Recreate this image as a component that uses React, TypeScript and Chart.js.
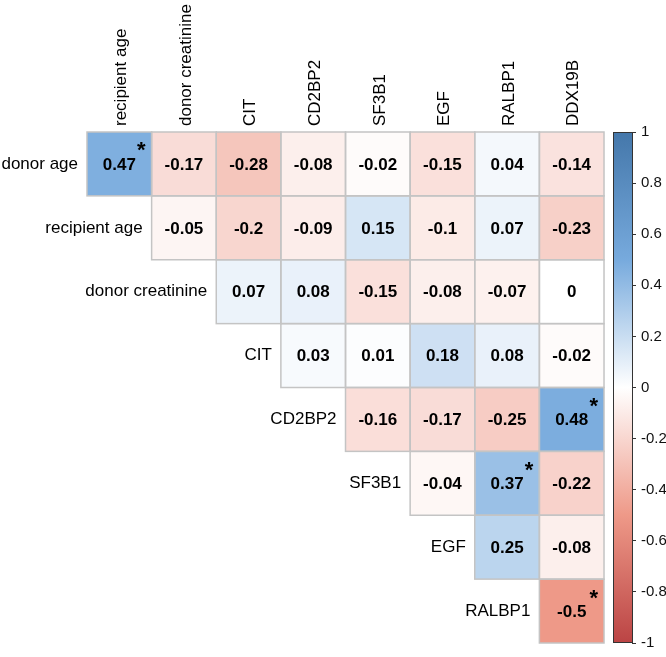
import React, { useEffect, useRef } from "react";
import { Chart, registerables } from "chart.js";

Chart.register(...registerables);

// ---- data ----
const colLabels = ["recipient age", "donor creatinine", "CIT", "CD2BP2", "SF3B1", "EGF", "RALBP1", "DDX19B"];
const rowLabels = ["donor age", "recipient age", "donor creatinine", "CIT", "CD2BP2", "SF3B1", "EGF", "RALBP1"];

// each row starts at the column with the same index (upper triangle)
const rowDonorAge = [0.47, -0.17, -0.28, -0.08, -0.02, -0.15, 0.04, -0.14];
const rowRecipientAge = [-0.05, -0.2, -0.09, 0.15, -0.1, 0.07, -0.23];
const rowDonorCreatinine = [0.07, 0.08, -0.15, -0.08, -0.07, 0];
const rowCIT = [0.03, 0.01, 0.18, 0.08, -0.02];
const rowCD2BP2 = [-0.16, -0.17, -0.25, 0.48];
const rowSF3B1 = [-0.04, 0.37, -0.22];
const rowEGF = [0.25, -0.08];
const rowRALBP1 = [-0.5];
const corrRows = [rowDonorAge, rowRecipientAge, rowDonorCreatinine, rowCIT, rowCD2BP2, rowSF3B1, rowEGF, rowRALBP1];

// significant cells [row, column]
const significantCells = [[0, 0], [4, 7], [5, 6], [7, 7]];

const paletteStops = [-1, -0.5, 0, 0.5, 1];
const paletteColors = ["#BB4444", "#EE9988", "#FFFFFF", "#77AADD", "#4477AA"];

const colorbarMin = -1;
const colorbarMax = 1;
const colorbarStep = 0.2;

// ---- layout constants ----
const W = 666;
const H = 657;
const GAP_UNITS = 0.433; // space between grid and colour bar in cell units
const COLORBAR_W = 19;
const FONT = "'Liberation Sans', Arial, sans-serif";

function hexToRgb(h: string) {
  const n = parseInt(h.slice(1), 16);
  return [(n >> 16) & 255, (n >> 8) & 255, n & 255];
}

function colorFor(v: number) {
  let i = 0;
  while (i < paletteStops.length - 2 && v > paletteStops[i + 1]) i++;
  const t = (v - paletteStops[i]) / (paletteStops[i + 1] - paletteStops[i]);
  const a = hexToRgb(paletteColors[i]);
  const b = hexToRgb(paletteColors[i + 1]);
  const c = a.map((av, k) => Math.round(av + (b[k] - av) * t));
  return `rgb(${c[0]},${c[1]},${c[2]})`;
}

type Cell = { x: number; y: number; v: number; sig: boolean };

const cells: Cell[] = [];
corrRows.forEach((row, r) => {
  row.forEach((v, k) => {
    const c = r + k;
    cells.push({ x: c, y: r, v, sig: significantCells.some(([sr, sc]) => sr === r && sc === c) });
  });
});

const corrPlugin = {
  id: "corrplot",
  beforeDatasetsDraw(chart: any) {
    const { ctx } = chart;
    const xs = chart.scales.x;
    const ys = chart.scales.y;
    const cb = chart.scales.cb;
    const data: Cell[] = chart.data.datasets[0].data;
    ctx.save();
    const rectOf = (p: Cell) => {
      const x0 = xs.getPixelForValue(p.x - 0.5);
      const x1 = xs.getPixelForValue(p.x + 0.5);
      const ya = ys.getPixelForValue(p.y - 0.5);
      const yb = ys.getPixelForValue(p.y + 0.5);
      return { x0, x1, y0: Math.min(ya, yb), y1: Math.max(ya, yb) };
    };
    for (const p of data) {
      const r = rectOf(p);
      ctx.fillStyle = colorFor(p.v);
      ctx.fillRect(r.x0, r.y0, r.x1 - r.x0, r.y1 - r.y0);
    }
    ctx.strokeStyle = "#c4c4c4";
    ctx.lineWidth = 1.5;
    for (const p of data) {
      const r = rectOf(p);
      ctx.strokeRect(r.x0, r.y0, r.x1 - r.x0, r.y1 - r.y0);
    }

    // values
    ctx.fillStyle = "#000";
    ctx.textAlign = "center";
    ctx.textBaseline = "middle";
    ctx.font = `bold 17px ${FONT}`;
    for (const p of data) {
      const cx = xs.getPixelForValue(p.x);
      const cy = ys.getPixelForValue(p.y);
      ctx.fillText(String(p.v), cx, cy + 1);
    }
    // significance stars
    ctx.font = `bold 22px ${FONT}`;
    ctx.textBaseline = "alphabetic";
    for (const p of data) {
      if (!p.sig) continue;
      const cx = xs.getPixelForValue(p.x);
      const cy = ys.getPixelForValue(p.y);
      ctx.fillText("*", cx + 22, cy - 19 + 12.5);
    }

    // row labels
    ctx.font = `17px ${FONT}`;
    ctx.textAlign = "right";
    ctx.textBaseline = "middle";
    rowLabels.forEach((lab, r) => {
      const left = xs.getPixelForValue(r - 0.5);
      ctx.fillText(lab, left - 9, ys.getPixelForValue(r));
    });
    // column labels (rotated)
    const top = Math.min(ys.getPixelForValue(-0.5), ys.getPixelForValue(7.5));
    colLabels.forEach((lab, c) => {
      ctx.save();
      ctx.translate(xs.getPixelForValue(c) + 2, top - 6);
      ctx.rotate(-Math.PI / 2);
      ctx.textAlign = "left";
      ctx.fillText(lab, 0, 0);
      ctx.restore();
    });

    // colour bar
    const yTop = cb.getPixelForValue(colorbarMax);
    const yBot = cb.getPixelForValue(colorbarMin);
    const right = cb.left;
    const left = right - COLORBAR_W;
    const g = ctx.createLinearGradient(0, yBot, 0, yTop);
    paletteStops.forEach((s, i) => g.addColorStop((s - colorbarMin) / (colorbarMax - colorbarMin), paletteColors[i]));
    ctx.fillStyle = g;
    ctx.fillRect(left, yTop, COLORBAR_W, yBot - yTop);
    ctx.strokeStyle = "#333";
    ctx.lineWidth = 1;
    ctx.strokeRect(left + 0.5, yTop + 0.5, COLORBAR_W, yBot - yTop - 1);
    ctx.restore();
  },
};

export default function App() {
  const ref = useRef<HTMLCanvasElement | null>(null);
  useEffect(() => {
    if (!ref.current) return;
    const chart = new Chart(ref.current, {
      type: "scatter",
      data: {
        datasets: [
          {
            data: cells as any,
            pointRadius: 0,
            pointHoverRadius: 0,
          },
        ],
      },
      options: {
        animation: false,
        responsive: false,
        events: [],
        layout: { padding: { left: 87, top: 132, bottom: 10, right: 0 } },
        plugins: { legend: { display: false }, tooltip: { enabled: false } },
        scales: {
          x: { type: "linear", min: -0.5, max: colLabels.length - 0.5 + GAP_UNITS, display: false },
          y: { type: "linear", min: -0.5, max: rowLabels.length - 0.5, reverse: true, display: false },
          cb: {
            type: "linear",
            axis: "y",
            position: "right",
            min: colorbarMin,
            max: colorbarMax,
            afterFit: (scale: any) => {
              scale.width = 34;
            },
            border: { display: false },
            grid: { drawOnChartArea: false, drawTicks: true, tickLength: 4, color: "#333", lineWidth: 1 },
            ticks: {
              stepSize: colorbarStep,
              autoSkip: false,
              padding: 5,
              color: "#111",
              font: { family: FONT, size: 15 },
              callback: (v: any) => String(Number(Number(v).toFixed(1))),
            },
          } as any,
        },
      },
      plugins: [corrPlugin],
    });
    return () => chart.destroy();
  }, []);
  return (
    <div style={{ position: "absolute", left: 0, top: 0, width: W, height: H, background: "#fff" }}>
      <canvas ref={ref} width={W} height={H} style={{ display: "block" }} />
    </div>
  );
}
